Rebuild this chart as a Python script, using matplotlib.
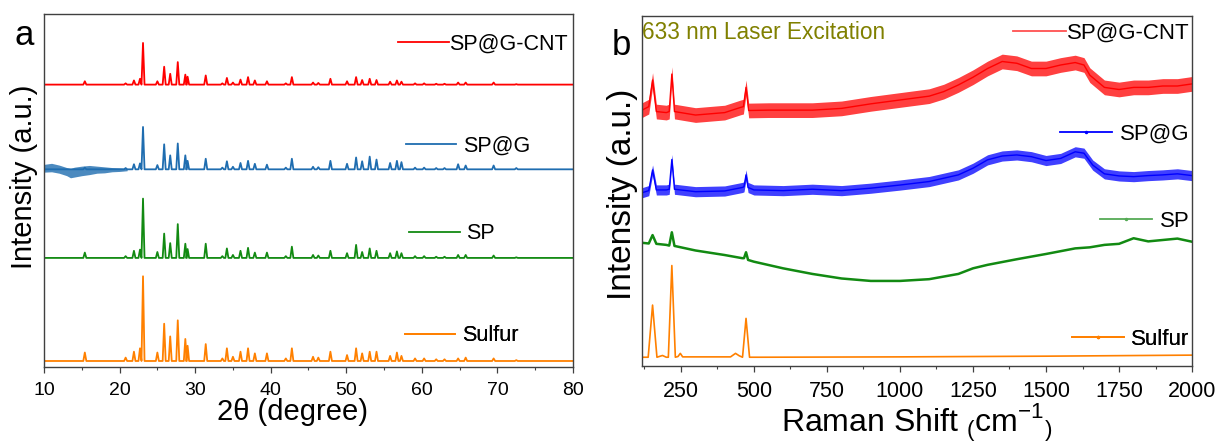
import matplotlib
matplotlib.use('Agg')
import matplotlib.pyplot as plt
from matplotlib.lines import Line2D
from matplotlib.ticker import MultipleLocator

plt.rcParams['font.family'] = ['Liberation Sans', 'DejaVu Sans']
plt.rcParams['mathtext.fontset'] = 'custom'
plt.rcParams['mathtext.rm'] = 'Liberation Sans'

# ---------------- panel a : XRD ----------------
xrd_pos = [15.4, 20.8, 21.9, 22.7, 23.1, 25.0, 25.9, 26.7, 27.7, 28.7, 29.0, 31.4,
           33.6, 34.2, 35.0, 36.0, 37.0, 37.9, 39.5, 42.0, 42.8, 45.6, 46.3, 47.9,
           50.1, 51.3, 52.1, 53.1, 54.0, 55.8, 56.7, 57.3, 59.1, 60.3, 61.9, 63.0,
           64.8, 65.8, 69.5, 72.5]
# relative heights (strongest = 100)
xrd_sulfur = [10, 4, 11, 15, 100, 10, 44, 29, 48, 26, 18, 20, 3, 15, 5, 11, 15, 9, 9, 3,
              15, 5, 4, 11, 7, 15, 9, 11, 11, 6, 10, 6, 3, 3, 2, 2, 3, 4, 3, 1]
xrd_sp = [9, 3, 12, 14, 100, 10, 41, 25, 57, 24, 15, 24, 3, 16, 5, 12, 17, 9, 9, 3,
          19, 5, 4, 12, 8, 22, 10, 16, 12, 8, 11, 8, 3, 3, 2, 2, 5, 5, 4, 1]
xrd_spg = [4, 3, 12, 14, 100, 10, 59, 33, 61, 33, 20, 25, 4, 19, 6, 15, 20, 13, 11, 4,
           25, 6, 5, 20, 13, 28, 19, 30, 23, 15, 20, 17, 4, 4, 3, 3, 12, 9, 9, 3]
xrd_spgcnt = [8, 3, 10, 14, 100, 8, 43, 26, 54, 24, 19, 22, 3, 16, 5, 12, 18, 10, 8, 3,
              18, 5, 4, 14, 8, 18, 11, 14, 11, 7, 10, 7, 3, 3, 2, 2, 5, 5, 5, 1]
# offset baseline and scale of each stacked pattern
xrd_base = {'Sulfur': 1.7, 'SP': 30.9, 'SP@G': 56.0, 'SP@G-CNT': 80.0}
xrd_amp = {'Sulfur': 24.0, 'SP': 16.8, 'SP@G': 12.0, 'SP@G-CNT': 11.8}
# noisy low-angle band of SP@G
spg_env_x = [10, 11, 12, 13, 13.5, 14, 15, 16, 17, 18, 19, 20, 21]
spg_env_lo = [55.2, 55.3, 54.9, 54.2, 53.6, 53.8, 54.2, 54.5, 54.9, 55.0, 55.3, 55.4, 55.6]
spg_env_hi = [57.4, 57.7, 57.2, 56.5, 56.2, 56.6, 56.9, 57.1, 56.9, 56.7, 56.5, 56.4, 56.3]

# ---------------- panel b : Raman ----------------
ram_sulfur_x = [117, 138, 153, 168, 187, 200, 207, 219, 231, 240, 248, 256, 420, 437,
                450, 461, 473, 485, 520, 1000, 1500, 2000]
ram_sulfur_y = [2.5, 2.5, 17.4, 2.5, 3.0, 2.5, 2.5, 28.7, 2.5, 2.7, 3.6, 2.6, 2.6, 3.6,
                2.9, 2.5, 13.6, 2.5, 2.5, 2.6, 2.8, 3.1]
ram_sp_x = [117, 140, 153, 166, 200, 210, 219, 228, 300, 400, 460, 466, 473, 480, 500,
            600, 700, 800, 900, 1000, 1100, 1200, 1250, 1300, 1400, 1500, 1600, 1650,
            1700, 1750, 1800, 1850, 1900, 1950, 2000]
ram_sp_y = [35.2, 35.0, 37.4, 34.9, 34.6, 34.4, 38.2, 34.3, 33.0, 31.7, 30.8, 30.8,
            32.5, 30.3, 29.8, 27.9, 26.3, 25.0, 24.3, 24.3, 24.8, 26.3, 27.9, 28.9,
            30.5, 32.0, 33.6, 33.9, 34.6, 34.9, 36.5, 35.6, 36.0, 36.4, 35.5]
ram_spg_x = [117, 140, 153, 166, 200, 210, 219, 228, 300, 400, 460, 466, 473, 480, 500,
             600, 700, 800, 900, 1000, 1100, 1200, 1250, 1300, 1350, 1400, 1450, 1500,
             1550, 1600, 1630, 1660, 1700, 1750, 1800, 1850, 1900, 1950, 2000]
ram_spg_y = [49.5, 50.1, 56.0, 50.3, 50.3, 50.5, 59.0, 50.5, 49.8, 50.0, 51.0, 51.2,
             54.6, 51.0, 50.3, 50.1, 50.5, 50.1, 50.8, 51.7, 52.7, 54.6, 56.5, 58.9,
             60.0, 60.3, 59.8, 58.7, 59.3, 61.2, 60.8, 57.4, 54.9, 54.3, 54.1, 54.4,
             54.6, 54.9, 54.4]
ram_spgcnt_x = [117, 140, 153, 166, 200, 210, 219, 228, 300, 400, 455, 464, 473, 482,
                550, 700, 800, 900, 1000, 1100, 1150, 1200, 1250, 1300, 1350, 1400,
                1450, 1500, 1550, 1600, 1630, 1650, 1700, 1750, 1800, 1850, 1900, 1950, 2000]
ram_spgcnt_y = [73.1, 74.1, 81.7, 72.7, 72.4, 72.7, 83.4, 72.7, 71.7, 72.4, 73.9, 74.1,
                79.6, 73.0, 73.1, 73.1, 73.6, 74.9, 76.0, 77.1, 78.4, 80.3, 82.5, 85.0,
                87.0, 86.5, 85.0, 85.0, 86.0, 86.7, 86.0, 83.1, 79.6, 79.0, 79.6, 79.6,
                80.0, 80.0, 80.6]
noise_spg = 1.45
noise_spgcnt = 2.1

c_red, c_blue_a, c_green, c_orange = '#ff0000', '#1f6db0', '#128a12', '#ff8000'
c_blue_b = '#0000ff'


def stick_pattern(pos, rel, base, amp, lo=10, hi=80, hw=0.2):
    xs, ys = [lo], [base]
    for p, r in zip(pos, rel):
        xs += [p - hw, p, p + hw]
        ys += [base, base + amp * r / 100.0, base]
    xs.append(hi)
    ys.append(base)
    return xs, ys


def tag(ax, color, label, y, x, loc, pad, size, marker=None):
    h = Line2D([], [], color=color, lw=1.3, marker=marker, ms=3)
    leg = ax.legend([h], [label], loc=loc, bbox_to_anchor=(x, y), frameon=False,
                    fontsize=size, handlelength=2.35, handletextpad=pad,
                    borderpad=0, borderaxespad=0)
    ax.add_artist(leg)


def style(ax):
    for s in ax.spines.values():
        s.set_color('#404040')
        s.set_linewidth(1.0)
    ax.set_yticks([])
    ax.tick_params(axis='x', which='major', direction='out', length=4, width=0.9,
                   pad=7, colors='#404040', labelcolor='black')
    ax.tick_params(axis='x', which='minor', direction='out', length=2.5, width=0.8,
                   colors='#404040')


fig = plt.figure(figsize=(12.16, 4.42), dpi=100)

# ---- panel a ----
ax1 = fig.add_axes([0.0362, 0.1697, 0.435, 0.7986])
series_a = [('Sulfur', xrd_sulfur, c_orange), ('SP', xrd_sp, c_green),
            ('SP@G', xrd_spg, c_blue_a), ('SP@G-CNT', xrd_spgcnt, c_red)]
for name, rel, col in series_a:
    xs, ys = stick_pattern(xrd_pos, rel, xrd_base[name], xrd_amp[name])
    ax1.plot(xs, ys, color=col, lw=1.3)
ax1.fill_between(spg_env_x, spg_env_lo, spg_env_hi, color=c_blue_a, lw=0, alpha=0.8)
ax1.set_xlim(10, 80)
ax1.set_ylim(0, 100)
ax1.xaxis.set_major_locator(MultipleLocator(10))
ax1.xaxis.set_minor_locator(MultipleLocator(5))
style(ax1)
ax1.tick_params(axis='x', labelsize=14)
ax1.set_xlabel('2θ (degree)', fontsize=21)
ax1.xaxis.set_label_coords(0.47, -0.088)
ax1.set_ylabel('Intensity (a.u.)', fontsize=21)
ax1.yaxis.set_label_coords(-0.012, 0.538)
tag(ax1, c_red, 'SP@G-CNT', 0.915, 0.670, 'center left', 0.0, 15.5)
tag(ax1, c_blue_a, 'SP@G', 0.626, 0.684, 'center left', 0.3, 15.5)
tag(ax1, c_green, 'SP', 0.377, 0.690, 'center left', 0.3, 15.5)
tag(ax1, c_orange, 'Sulfur', 0.088, 0.682, 'center left', 0.3, 15.5)

# ---- panel b ----
ax2 = fig.add_axes([0.528, 0.172, 0.4523, 0.7918])
ax2.plot(ram_sulfur_x, ram_sulfur_y, color=c_orange, lw=1.2)
ax2.plot(ram_sp_x, ram_sp_y, color=c_green, lw=1.8)
lo = [v - noise_spg for v in ram_spg_y]
hi = [v + noise_spg for v in ram_spg_y]
ax2.fill_between(ram_spg_x, lo, hi, color=c_blue_b, lw=0, alpha=0.75)
ax2.plot(ram_spg_x, ram_spg_y, color=c_blue_b, lw=1.0)
lo = [v - noise_spgcnt for v in ram_spgcnt_y]
hi = [v + noise_spgcnt for v in ram_spgcnt_y]
ax2.fill_between(ram_spgcnt_x, lo, hi, color=c_red, lw=0, alpha=0.75)
ax2.plot(ram_spgcnt_x, ram_spgcnt_y, color=c_red, lw=1.0)
ax2.set_xlim(117, 2000)
ax2.set_ylim(0, 100)
ax2.xaxis.set_major_locator(MultipleLocator(250))
ax2.xaxis.set_minor_locator(MultipleLocator(125))
style(ax2)
ax2.tick_params(axis='x', labelsize=15.5)
ax2.set_xlabel(r'Raman Shift $_{(}\mathrm{cm}^{-1}{}_{)}$', fontsize=23)
ax2.xaxis.set_label_coords(0.5, -0.102)
ax2.set_ylabel('Intensity (a.u.)', fontsize=24)
ax2.yaxis.set_label_coords(-0.008, 0.491)
ax2.text(0.0, 0.954, '633 nm Laser Excitation', transform=ax2.transAxes,
         color='#808000', fontsize=16.3, ha='left', va='center')
tag(ax2, '#ff5050', 'SP@G-CNT', 0.951, 0.995, 'center right', 0.05, 16)
tag(ax2, c_blue_b, 'SP@G', 0.663, 0.995, 'center right', 0.35, 16, '.')
tag(ax2, '#55aa55', 'SP', 0.414, 0.995, 'center right', 0.35, 16, '.')
tag(ax2, c_orange, 'Sulfur', 0.077, 0.995, 'center right', 0.3, 16, '.')

fig.text(15 / 1216, 1 - 45 / 442, 'a', fontsize=25, va='baseline')
fig.text(612 / 1216, 1 - 55 / 442, 'b', fontsize=25, va='baseline')

fig.savefig('out.png', dpi=100)
